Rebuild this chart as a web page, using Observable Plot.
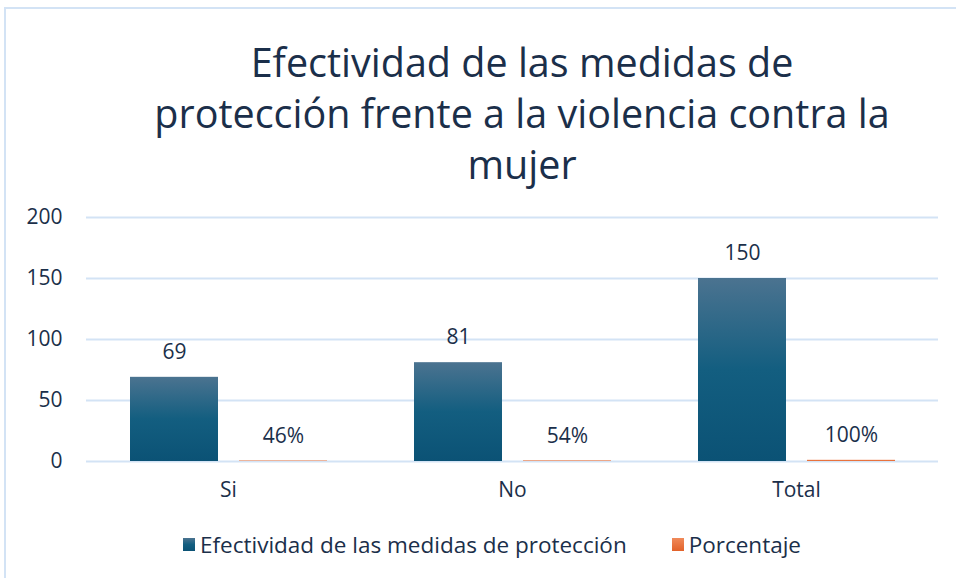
<!DOCTYPE html>
<html>
<head>
<meta charset="utf-8">
<script src="https://cdn.jsdelivr.net/npm/d3@7"></script>
<script src="https://cdn.jsdelivr.net/npm/@observablehq/plot@0.6"></script>
<style>
  html, body { margin: 0; padding: 0; background: #fff; }
  #wrap { position: relative; width: 956px; height: 578px; overflow: hidden; background: #fff; font-family: "Open Sans", sans-serif; color: #1b2f4a; }
  #frame { position: absolute; left: 4px; top: 7px; width: 1000px; height: 620px; border: 2px solid #d3e3f5; box-sizing: border-box; }
  #title { position: absolute; left: 72px; width: 900px; top: 37px; text-align: center; font-size: 39.5px; line-height: 51px; color: #1b2f4a; }
  #chart { position: absolute; left: 0; top: 200px; }
  #legend { position: absolute; top: 529px; left: 183px; display: flex; align-items: center; font-size: 22.5px; color: #1b2f4a; }
  .sw { width: 12px; height: 13px; display: inline-block; margin-right: 5px; }
  .item { display: flex; align-items: center; }
</style>
</head>
<body>
<div id="wrap">
  <div id="frame"></div>
  <div id="title">Efectividad de las medidas de<br>protección frente a la violencia contra la<br>mujer</div>
  <div id="chart"></div>
  <div id="legend"></div>
</div>
<script>
const categories = ["Si", "No", "Total"];
const series = ["Efectividad de las medidas de protección", "Porcentaje"];
const counts = [69, 81, 150];
const percents = [0.46, 0.54, 1.00];
const percentLabels = ["46%", "54%", "100%"];
const yTicks = [0, 50, 100, 150, 200];

const data = [];
categories.forEach((c, i) => {
  data.push({cat: c, series: series[0], value: counts[i], label: String(counts[i])});
  data.push({cat: c, series: series[1], value: percents[i], label: percentLabels[i]});
});

const textColor = "#1b2f4a";
const gridColor = "#d3e3f5";

const svg = Plot.plot({
  width: 956,
  height: 310,
  marginTop: 17,
  marginBottom: 49,
  marginLeft: 86,
  marginRight: 18,
  style: {fontFamily: "Open Sans, sans-serif", fontSize: "21px", color: textColor, background: "transparent"},
  fx: {domain: categories, padding: 0, label: null, axis: "bottom", tickSize: 0, tickPadding: 21},
  x: {domain: series, axis: null, paddingInner: 0.193, paddingOuter: 0.394},
  y: {domain: [0, 200], ticks: yTicks, label: null, tickSize: 0, tickPadding: 24},
  color: {domain: series, range: ["url(#gBlue)", "url(#gOrange)"]},
  marks: [
    Plot.ruleY(yTicks, {stroke: gridColor, strokeWidth: 2}),
    Plot.barY(data, {fx: "cat", x: "series", y: "value", fill: "series"}),
    Plot.text(data, {fx: "cat", x: "series", y: "value", text: "label", dy: -25, fill: textColor, fontSize: 21})
  ]
});

const defs = d3.select(svg).insert("defs", ":first-child");
const gb = defs.append("linearGradient").attr("id", "gBlue").attr("x1", 0).attr("y1", 0).attr("x2", 0).attr("y2", 1);
gb.append("stop").attr("offset", "0%").attr("stop-color", "#4b7390");
gb.append("stop").attr("offset", "50%").attr("stop-color", "#135e80");
gb.append("stop").attr("offset", "100%").attr("stop-color", "#0b5275");
const go = defs.append("linearGradient").attr("id", "gOrange").attr("x1", 0).attr("y1", 0).attr("x2", 0).attr("y2", 1);
go.append("stop").attr("offset", "0%").attr("stop-color", "#f08a5a");
go.append("stop").attr("offset", "100%").attr("stop-color", "#e2622a");

document.getElementById("chart").appendChild(svg);

const legend = document.getElementById("legend");
const swatchColors = ["linear-gradient(#4b7390, #135e80, #0b5275)", "linear-gradient(#f08a5a, #e2622a)"];
series.forEach((s, i) => {
  const item = document.createElement("div");
  item.className = "item";
  if (i > 0) item.style.marginLeft = "45px";
  const sw = document.createElement("span");
  sw.className = "sw";
  sw.style.background = swatchColors[i];
  item.appendChild(sw);
  const t = document.createElement("span");
  t.textContent = s;
  item.appendChild(t);
  legend.appendChild(item);
});
</script>
</body>
</html>
